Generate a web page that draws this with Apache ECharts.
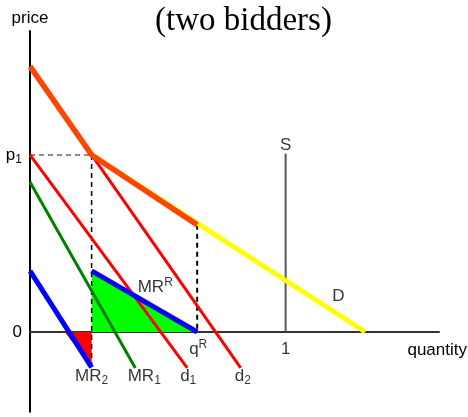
<!DOCTYPE html>
<html>
<head>
<meta charset="utf-8">
<script src="https://cdn.jsdelivr.net/npm/echarts@6/dist/echarts.min.js"></script>
<style>
  html, body { margin: 0; padding: 0; background: #fff; }
  #chart { width: 468px; height: 417px; }
</style>
</head>
<body>
<div id="chart"></div>
<script>
// quantity on x (S sits at 1), price on y (p1 = 1)
const demandD = [[0.241, 1], [1.311, 0]]
const demandUpper = [[0, 1.5], [0.241, 1], [0.654, 0.605]]
const d1 = [[0, 1], [0.615, -0.203]]
const d2 = [[0.241, 1], [0.824, -0.203]]
const mr1 = [[0, 0.847], [0.412, -0.203]]
const mr2 = [[0, 0.345], [0.241, -0.2]]
const mrR = [[0.241, 0.345], [0.654, 0]]
const supply = [[1, 0], [1, 1.006]]
const lossArea = [[0.136, 0], [0.241, -0.2]]
const p1Guide = [[0, 1], [0.241, 1]]
const q1Guide = [[0.241, 1], [0.241, -0.2]]
const qRGuide = [[0.654, 0.605], [0.654, 0]]

const annotationText = ['MR{sub|2}', 'MR{sub|1}', 'd{sub|1}', 'd{sub|2}', 'q{sup|R}', 'MR{sup|R}', 'S', 'D', '1']
const annotationAt = [[0.241, -0.249], [0.447, -0.249], [0.619, -0.249], [0.833, -0.249], [0.658, -0.1], [0.49, 0.254], [1, 1.056], [1.206, 0.203], [1, -0.1]]

const myChart = echarts.init(document.getElementById('chart'))

const sans = 'Liberation Sans'
const rich = {
  sub: { fontSize: 12, fontFamily: sans, color: '#000', padding: [9, 0, 0, 0] },
  sup: { fontSize: 12, fontFamily: sans, color: '#000', padding: [0, 0, 9, 0] },
}

function seg(name, data, color, width, type) {
  return {
    name,
    type: 'line',
    data,
    symbol: 'none',
    silent: true,
    animation: false,
    lineStyle: { color, width, type: type || 'solid', cap: 'butt' },
  }
}

function area(name, data, color) {
  return {
    name,
    type: 'line',
    data,
    symbol: 'none',
    silent: true,
    animation: false,
    lineStyle: { width: 0 },
    areaStyle: { color, opacity: 1, origin: 0 },
  }
}

const option = {
  animation: false,
  title: {
    text: '(two bidders)',
    left: 150,
    top: 0,
    textStyle: { fontFamily: 'Liberation Serif', fontSize: 33, fontWeight: 'normal', color: '#000' },
  },
  grid: { left: 30, right: 29, top: 31, bottom: 5.35, outerBoundsMode: 'none', containLabel: false },
  xAxis: {
    type: 'value',
    min: 0,
    max: 1.6,
    interval: 0.05,
    name: 'quantity',
    nameGap: 28,
    nameTextStyle: { fontFamily: sans, fontSize: 17, color: '#000', align: 'right', verticalAlign: 'top', padding: [10, 0, 0, 0] },
    axisLine: { onZero: true, lineStyle: { color: '#333', width: 2 } },
    axisTick: { show: false },
    splitLine: { show: false },
    axisLabel: { show: false },
  },
  yAxis: {
    type: 'value',
    min: -0.45,
    max: 1.7,
    interval: 0.05,
    name: 'price',
    nameGap: 4,
    nameTextStyle: { fontFamily: sans, fontSize: 17, color: '#000', align: 'center' },
    axisLine: { lineStyle: { color: '#000', width: 2 } },
    axisTick: { show: false },
    splitLine: { show: false },
    axisLabel: {
      fontFamily: sans,
      fontSize: 17,
      color: '#000',
      margin: 8,
      rich,
      formatter: (v) => {
        if (Math.abs(v - 1) < 1e-6) return 'p{sub|1}'
        if (Math.abs(v) < 1e-6) return '0'
        return ''
      },
    },
  },
  series: [
    area('gain', mrR, '#00ff00'),
    area('loss', lossArea, '#ff0000'),
    seg('S', supply, '#555', 2),
    seg('p1 guide', p1Guide, '#666', 1.5, [5, 4]),
    seg('q1 guide', q1Guide, '#000', 1.5, [5, 4]),
    seg('qR guide', qRGuide, '#000', 2, [5, 4]),
    seg('MR1', mr1, '#008000', 3),
    seg('d1', d1, '#ff0000', 3),
    seg('d2', d2, '#ff0000', 3),
    seg('D', demandD, '#ffff00', 5),
    seg('D upper', demandUpper, '#ff4500', 5.5),
    seg('MR2', mr2, '#0000ff', 5),
    seg('MRR', mrR, '#0000ff', 5),
    {
      name: 'labels',
      type: 'scatter',
      symbolSize: 1,
      silent: true,
      itemStyle: { color: 'transparent' },
      data: annotationAt.map((pt, i) => ({ value: pt, text: annotationText[i] })),
      label: {
        show: true,
        position: 'inside',
        align: 'center',
        verticalAlign: 'middle',
        fontFamily: sans,
        fontSize: 17,
        color: '#000',
        rich,
        formatter: (p) => p.data.text,
      },
    },
  ],
}

option && myChart.setOption(option)
</script>
</body>
</html>
